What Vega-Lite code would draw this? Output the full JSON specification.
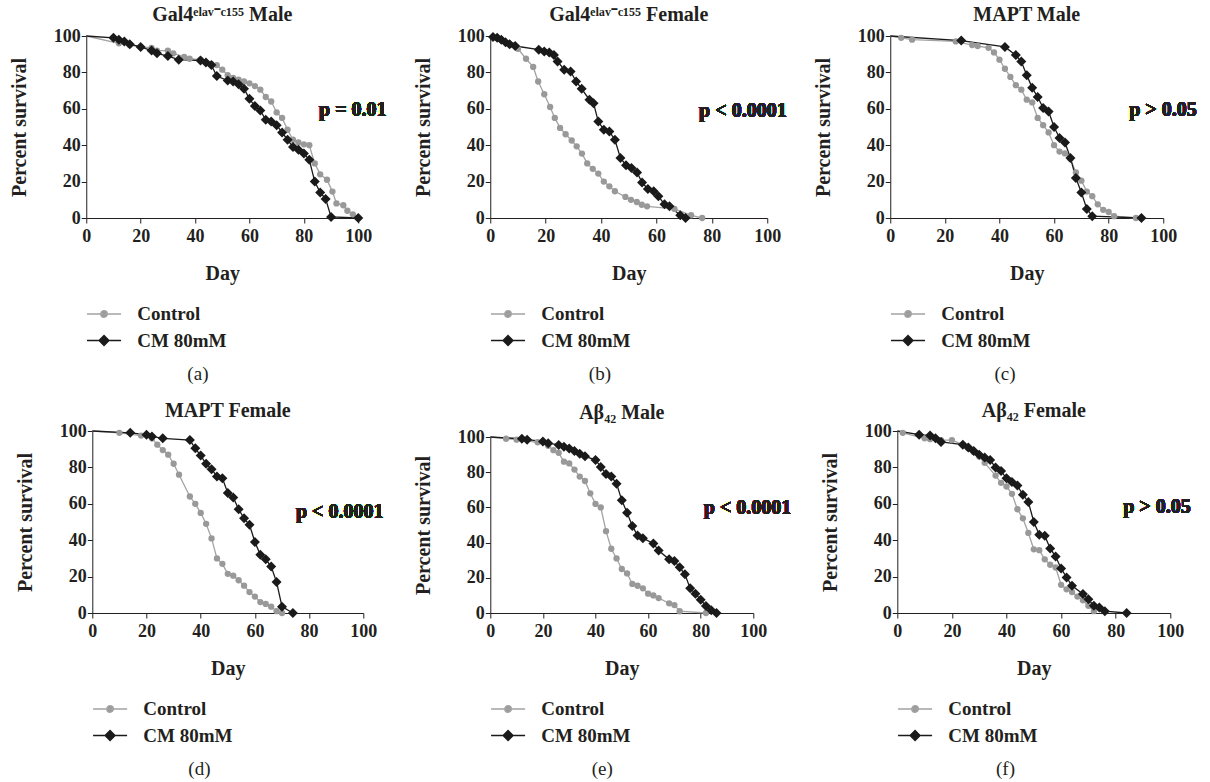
{
  "$schema": "https://vega.github.io/schema/vega-lite/v6.json",
  "background": "white",
  "padding": {"left": 9, "top": 5, "right": 5, "bottom": 0},
  "config": {
    "font": "Liberation Serif",
    "view": {"stroke": null},
    "axis": {"grid": false, "domainColor": "#231f20", "tickColor": "#231f20", "tickSize": 5, "labelFlush": false, "labelFont": "Liberation Serif", "labelFontSize": 18, "labelFontWeight": "bold", "labelColor": "#231f20", "labelPadding": 1, "titleFont": "Liberation Serif", "titleFontSize": 20, "titleFontWeight": "bold", "titleColor": "#231f20"},
    "axisX": {"titlePadding": 18, "labelPadding": 4},
    "axisY": {"titlePadding": 24},
    "legend": {"orient": "bottom", "direction": "vertical", "offset": 18, "symbolSize": 600, "rowPadding": 3.5, "labelOffset": 25, "labelFont": "Liberation Serif", "labelFontSize": 19, "labelFontWeight": "bold", "labelColor": "#231f20"},
    "title": {"font": "Liberation Serif", "fontSize": 20, "fontWeight": "bold", "color": "#231f20"}
  },
  "datasets": {
    "a": [
      {"group": "Control", "day": 0, "pct": 100}, {"group": "Control", "day": 12, "pct": 96}, {"group": "Control", "day": 16, "pct": 95}, {"group": "Control", "day": 20, "pct": 94}, {"group": "Control", "day": 24, "pct": 93.5}, {"group": "Control", "day": 26, "pct": 92}, {"group": "Control", "day": 30, "pct": 92}, {"group": "Control", "day": 32, "pct": 90.5}, {"group": "Control", "day": 36, "pct": 88.5}, {"group": "Control", "day": 38, "pct": 87.5}, {"group": "Control", "day": 42, "pct": 87}, {"group": "Control", "day": 44, "pct": 85.5}, {"group": "Control", "day": 46, "pct": 84.5}, {"group": "Control", "day": 48, "pct": 84}, {"group": "Control", "day": 50, "pct": 81.5}, {"group": "Control", "day": 52, "pct": 78.5}, {"group": "Control", "day": 54, "pct": 77}, {"group": "Control", "day": 56, "pct": 76}, {"group": "Control", "day": 58, "pct": 75}, {"group": "Control", "day": 60, "pct": 74}, {"group": "Control", "day": 62, "pct": 72.5}, {"group": "Control", "day": 64, "pct": 70.5}, {"group": "Control", "day": 66, "pct": 66.5}, {"group": "Control", "day": 68, "pct": 64}, {"group": "Control", "day": 70, "pct": 58}, {"group": "Control", "day": 72, "pct": 55}, {"group": "Control", "day": 74, "pct": 48.5}, {"group": "Control", "day": 76, "pct": 43}, {"group": "Control", "day": 78, "pct": 41.5}, {"group": "Control", "day": 80, "pct": 40.5}, {"group": "Control", "day": 82, "pct": 40}, {"group": "Control", "day": 84, "pct": 30}, {"group": "Control", "day": 86, "pct": 24}, {"group": "Control", "day": 88.5, "pct": 21}, {"group": "Control", "day": 90.5, "pct": 14.5}, {"group": "Control", "day": 92, "pct": 8}, {"group": "Control", "day": 94.5, "pct": 7}, {"group": "Control", "day": 96, "pct": 4}, {"group": "Control", "day": 98, "pct": 2}, {"group": "Control", "day": 100, "pct": 0},
      {"group": "CM 80mM", "day": 0, "pct": 100}, {"group": "CM 80mM", "day": 10, "pct": 99}, {"group": "CM 80mM", "day": 12, "pct": 98}, {"group": "CM 80mM", "day": 14, "pct": 97}, {"group": "CM 80mM", "day": 16, "pct": 95.5}, {"group": "CM 80mM", "day": 20, "pct": 94}, {"group": "CM 80mM", "day": 24, "pct": 92}, {"group": "CM 80mM", "day": 26, "pct": 90.5}, {"group": "CM 80mM", "day": 30, "pct": 89}, {"group": "CM 80mM", "day": 34, "pct": 87}, {"group": "CM 80mM", "day": 42, "pct": 86.5}, {"group": "CM 80mM", "day": 44, "pct": 85.5}, {"group": "CM 80mM", "day": 46, "pct": 84}, {"group": "CM 80mM", "day": 48, "pct": 78}, {"group": "CM 80mM", "day": 52, "pct": 75.5}, {"group": "CM 80mM", "day": 54, "pct": 75}, {"group": "CM 80mM", "day": 56, "pct": 73.5}, {"group": "CM 80mM", "day": 58, "pct": 71}, {"group": "CM 80mM", "day": 60, "pct": 65.5}, {"group": "CM 80mM", "day": 62, "pct": 61.5}, {"group": "CM 80mM", "day": 64, "pct": 59}, {"group": "CM 80mM", "day": 66, "pct": 54}, {"group": "CM 80mM", "day": 68, "pct": 53}, {"group": "CM 80mM", "day": 70, "pct": 51}, {"group": "CM 80mM", "day": 72, "pct": 47}, {"group": "CM 80mM", "day": 74, "pct": 43}, {"group": "CM 80mM", "day": 76, "pct": 39}, {"group": "CM 80mM", "day": 78, "pct": 37.5}, {"group": "CM 80mM", "day": 80, "pct": 35.5}, {"group": "CM 80mM", "day": 82, "pct": 32}, {"group": "CM 80mM", "day": 84, "pct": 20}, {"group": "CM 80mM", "day": 86, "pct": 14}, {"group": "CM 80mM", "day": 88, "pct": 10.5}, {"group": "CM 80mM", "day": 90, "pct": 0.6}, {"group": "CM 80mM", "day": 100, "pct": 0}
    ],
    "b": [
      {"group": "Control", "day": 0, "pct": 100}, {"group": "Control", "day": 2, "pct": 99}, {"group": "Control", "day": 4, "pct": 98}, {"group": "Control", "day": 6, "pct": 96}, {"group": "Control", "day": 8, "pct": 95}, {"group": "Control", "day": 10, "pct": 93}, {"group": "Control", "day": 12.9, "pct": 87.5}, {"group": "Control", "day": 15.5, "pct": 83}, {"group": "Control", "day": 17.3, "pct": 75}, {"group": "Control", "day": 19.5, "pct": 68}, {"group": "Control", "day": 21.6, "pct": 61}, {"group": "Control", "day": 23.3, "pct": 55}, {"group": "Control", "day": 25.2, "pct": 49.5}, {"group": "Control", "day": 27.2, "pct": 46}, {"group": "Control", "day": 29.4, "pct": 42.6}, {"group": "Control", "day": 31.2, "pct": 39.4}, {"group": "Control", "day": 33.1, "pct": 35.4}, {"group": "Control", "day": 35, "pct": 30}, {"group": "Control", "day": 37, "pct": 27}, {"group": "Control", "day": 39, "pct": 24.4}, {"group": "Control", "day": 41, "pct": 20}, {"group": "Control", "day": 43, "pct": 17.4}, {"group": "Control", "day": 45, "pct": 14.7}, {"group": "Control", "day": 48.8, "pct": 11.6}, {"group": "Control", "day": 50.8, "pct": 10}, {"group": "Control", "day": 52.9, "pct": 8.8}, {"group": "Control", "day": 54.7, "pct": 7.3}, {"group": "Control", "day": 56.6, "pct": 6.4}, {"group": "Control", "day": 66.5, "pct": 5}, {"group": "Control", "day": 72.5, "pct": 1.5}, {"group": "Control", "day": 76.5, "pct": 0},
      {"group": "CM 80mM", "day": 0, "pct": 100}, {"group": "CM 80mM", "day": 1, "pct": 99.5}, {"group": "CM 80mM", "day": 2.5, "pct": 99}, {"group": "CM 80mM", "day": 4, "pct": 98}, {"group": "CM 80mM", "day": 5.5, "pct": 96.5}, {"group": "CM 80mM", "day": 7, "pct": 95.5}, {"group": "CM 80mM", "day": 9, "pct": 94.5}, {"group": "CM 80mM", "day": 17.5, "pct": 92.5}, {"group": "CM 80mM", "day": 19.5, "pct": 91.5}, {"group": "CM 80mM", "day": 21.3, "pct": 91}, {"group": "CM 80mM", "day": 23, "pct": 89.5}, {"group": "CM 80mM", "day": 24.3, "pct": 86}, {"group": "CM 80mM", "day": 26.7, "pct": 81.5}, {"group": "CM 80mM", "day": 29, "pct": 80.5}, {"group": "CM 80mM", "day": 31, "pct": 75}, {"group": "CM 80mM", "day": 33, "pct": 71}, {"group": "CM 80mM", "day": 35.8, "pct": 65}, {"group": "CM 80mM", "day": 37.3, "pct": 63}, {"group": "CM 80mM", "day": 39, "pct": 53}, {"group": "CM 80mM", "day": 41, "pct": 48.5}, {"group": "CM 80mM", "day": 43, "pct": 47.5}, {"group": "CM 80mM", "day": 45, "pct": 43}, {"group": "CM 80mM", "day": 47, "pct": 33}, {"group": "CM 80mM", "day": 49, "pct": 29}, {"group": "CM 80mM", "day": 51, "pct": 27.5}, {"group": "CM 80mM", "day": 53, "pct": 25}, {"group": "CM 80mM", "day": 54.8, "pct": 19.5}, {"group": "CM 80mM", "day": 56.9, "pct": 16}, {"group": "CM 80mM", "day": 59, "pct": 14.7}, {"group": "CM 80mM", "day": 60.7, "pct": 12}, {"group": "CM 80mM", "day": 62.9, "pct": 7.5}, {"group": "CM 80mM", "day": 64.7, "pct": 6.5}, {"group": "CM 80mM", "day": 68.6, "pct": 1.5}, {"group": "CM 80mM", "day": 70.5, "pct": 0}
    ],
    "c": [
      {"group": "Control", "day": 0, "pct": 100}, {"group": "Control", "day": 4, "pct": 99}, {"group": "Control", "day": 8, "pct": 98}, {"group": "Control", "day": 24, "pct": 97}, {"group": "Control", "day": 30, "pct": 95}, {"group": "Control", "day": 32, "pct": 94.5}, {"group": "Control", "day": 36, "pct": 93.5}, {"group": "Control", "day": 38, "pct": 91}, {"group": "Control", "day": 40, "pct": 87}, {"group": "Control", "day": 42, "pct": 82}, {"group": "Control", "day": 44, "pct": 77.5}, {"group": "Control", "day": 46, "pct": 73}, {"group": "Control", "day": 48, "pct": 70.5}, {"group": "Control", "day": 50, "pct": 65}, {"group": "Control", "day": 52, "pct": 63.5}, {"group": "Control", "day": 54, "pct": 55}, {"group": "Control", "day": 56, "pct": 51}, {"group": "Control", "day": 58, "pct": 47}, {"group": "Control", "day": 60, "pct": 40}, {"group": "Control", "day": 62, "pct": 36.5}, {"group": "Control", "day": 64, "pct": 35.5}, {"group": "Control", "day": 66, "pct": 32.5}, {"group": "Control", "day": 68, "pct": 25}, {"group": "Control", "day": 70, "pct": 20.5}, {"group": "Control", "day": 72, "pct": 14.5}, {"group": "Control", "day": 74, "pct": 12}, {"group": "Control", "day": 76, "pct": 7.5}, {"group": "Control", "day": 78, "pct": 4.5}, {"group": "Control", "day": 80, "pct": 3.3}, {"group": "Control", "day": 82, "pct": 1}, {"group": "Control", "day": 90, "pct": 0},
      {"group": "CM 80mM", "day": 0, "pct": 100}, {"group": "CM 80mM", "day": 26, "pct": 97.5}, {"group": "CM 80mM", "day": 42, "pct": 94}, {"group": "CM 80mM", "day": 46, "pct": 89.5}, {"group": "CM 80mM", "day": 48, "pct": 86}, {"group": "CM 80mM", "day": 50, "pct": 78.5}, {"group": "CM 80mM", "day": 52, "pct": 71.5}, {"group": "CM 80mM", "day": 54, "pct": 66.5}, {"group": "CM 80mM", "day": 56, "pct": 60.5}, {"group": "CM 80mM", "day": 58, "pct": 58.5}, {"group": "CM 80mM", "day": 60, "pct": 50}, {"group": "CM 80mM", "day": 62, "pct": 44}, {"group": "CM 80mM", "day": 64, "pct": 41.5}, {"group": "CM 80mM", "day": 66, "pct": 33}, {"group": "CM 80mM", "day": 68, "pct": 22}, {"group": "CM 80mM", "day": 70, "pct": 14}, {"group": "CM 80mM", "day": 72, "pct": 5}, {"group": "CM 80mM", "day": 74, "pct": 1}, {"group": "CM 80mM", "day": 92, "pct": 0}
    ],
    "d": [
      {"group": "Control", "day": 0, "pct": 100}, {"group": "Control", "day": 10, "pct": 99}, {"group": "Control", "day": 18, "pct": 97.5}, {"group": "Control", "day": 22, "pct": 96}, {"group": "Control", "day": 24, "pct": 92.5}, {"group": "Control", "day": 26, "pct": 89.5}, {"group": "Control", "day": 28, "pct": 87}, {"group": "Control", "day": 30, "pct": 82}, {"group": "Control", "day": 32, "pct": 76}, {"group": "Control", "day": 36, "pct": 64}, {"group": "Control", "day": 38, "pct": 60}, {"group": "Control", "day": 40, "pct": 55}, {"group": "Control", "day": 42, "pct": 49}, {"group": "Control", "day": 44, "pct": 41}, {"group": "Control", "day": 46, "pct": 30}, {"group": "Control", "day": 48, "pct": 27}, {"group": "Control", "day": 50, "pct": 21.5}, {"group": "Control", "day": 52, "pct": 20.5}, {"group": "Control", "day": 54, "pct": 18}, {"group": "Control", "day": 56, "pct": 15}, {"group": "Control", "day": 58, "pct": 11.5}, {"group": "Control", "day": 60, "pct": 9}, {"group": "Control", "day": 62, "pct": 6}, {"group": "Control", "day": 64, "pct": 5}, {"group": "Control", "day": 66, "pct": 3.5}, {"group": "Control", "day": 68, "pct": 1}, {"group": "Control", "day": 70, "pct": 0},
      {"group": "CM 80mM", "day": 0, "pct": 100}, {"group": "CM 80mM", "day": 14, "pct": 99}, {"group": "CM 80mM", "day": 20, "pct": 98}, {"group": "CM 80mM", "day": 22, "pct": 97}, {"group": "CM 80mM", "day": 26, "pct": 96}, {"group": "CM 80mM", "day": 36, "pct": 95}, {"group": "CM 80mM", "day": 38, "pct": 90.5}, {"group": "CM 80mM", "day": 40, "pct": 86.5}, {"group": "CM 80mM", "day": 42, "pct": 82}, {"group": "CM 80mM", "day": 44, "pct": 79}, {"group": "CM 80mM", "day": 46, "pct": 75}, {"group": "CM 80mM", "day": 48, "pct": 74}, {"group": "CM 80mM", "day": 50, "pct": 66}, {"group": "CM 80mM", "day": 52, "pct": 63.5}, {"group": "CM 80mM", "day": 54, "pct": 57}, {"group": "CM 80mM", "day": 56, "pct": 52}, {"group": "CM 80mM", "day": 58, "pct": 48.5}, {"group": "CM 80mM", "day": 60, "pct": 39}, {"group": "CM 80mM", "day": 62, "pct": 32}, {"group": "CM 80mM", "day": 64, "pct": 29.5}, {"group": "CM 80mM", "day": 66, "pct": 25.5}, {"group": "CM 80mM", "day": 68, "pct": 17}, {"group": "CM 80mM", "day": 70, "pct": 3.5}, {"group": "CM 80mM", "day": 74, "pct": 0}
    ],
    "e": [
      {"group": "Control", "day": 0, "pct": 100}, {"group": "Control", "day": 6, "pct": 99}, {"group": "Control", "day": 10, "pct": 98.5}, {"group": "Control", "day": 18, "pct": 97}, {"group": "Control", "day": 22, "pct": 95}, {"group": "Control", "day": 24, "pct": 92.5}, {"group": "Control", "day": 26, "pct": 91}, {"group": "Control", "day": 28, "pct": 86}, {"group": "Control", "day": 30, "pct": 85}, {"group": "Control", "day": 32, "pct": 81.5}, {"group": "Control", "day": 34, "pct": 77.5}, {"group": "Control", "day": 36, "pct": 75}, {"group": "Control", "day": 38, "pct": 68}, {"group": "Control", "day": 40, "pct": 62}, {"group": "Control", "day": 42, "pct": 60}, {"group": "Control", "day": 44, "pct": 46.5}, {"group": "Control", "day": 46, "pct": 36.5}, {"group": "Control", "day": 48, "pct": 31}, {"group": "Control", "day": 50, "pct": 25}, {"group": "Control", "day": 52, "pct": 22.5}, {"group": "Control", "day": 54, "pct": 16.5}, {"group": "Control", "day": 56, "pct": 15.5}, {"group": "Control", "day": 58, "pct": 14}, {"group": "Control", "day": 60, "pct": 11}, {"group": "Control", "day": 62, "pct": 10}, {"group": "Control", "day": 64, "pct": 8.5}, {"group": "Control", "day": 68, "pct": 5.5}, {"group": "Control", "day": 70, "pct": 4.5}, {"group": "Control", "day": 72, "pct": 1}, {"group": "Control", "day": 82, "pct": 0},
      {"group": "CM 80mM", "day": 0, "pct": 100}, {"group": "CM 80mM", "day": 12, "pct": 99}, {"group": "CM 80mM", "day": 14, "pct": 98.5}, {"group": "CM 80mM", "day": 20, "pct": 97.5}, {"group": "CM 80mM", "day": 22, "pct": 96.5}, {"group": "CM 80mM", "day": 26, "pct": 95.5}, {"group": "CM 80mM", "day": 28, "pct": 94.5}, {"group": "CM 80mM", "day": 30, "pct": 93.5}, {"group": "CM 80mM", "day": 32, "pct": 92}, {"group": "CM 80mM", "day": 34, "pct": 90.5}, {"group": "CM 80mM", "day": 36, "pct": 89}, {"group": "CM 80mM", "day": 40, "pct": 87}, {"group": "CM 80mM", "day": 42, "pct": 83}, {"group": "CM 80mM", "day": 44, "pct": 79}, {"group": "CM 80mM", "day": 46, "pct": 77.5}, {"group": "CM 80mM", "day": 48, "pct": 73.5}, {"group": "CM 80mM", "day": 50, "pct": 64}, {"group": "CM 80mM", "day": 52, "pct": 57}, {"group": "CM 80mM", "day": 54, "pct": 49.5}, {"group": "CM 80mM", "day": 56, "pct": 44}, {"group": "CM 80mM", "day": 58, "pct": 42.5}, {"group": "CM 80mM", "day": 62, "pct": 39.5}, {"group": "CM 80mM", "day": 64, "pct": 35.5}, {"group": "CM 80mM", "day": 68, "pct": 30.5}, {"group": "CM 80mM", "day": 70, "pct": 29.5}, {"group": "CM 80mM", "day": 72, "pct": 26}, {"group": "CM 80mM", "day": 74, "pct": 22}, {"group": "CM 80mM", "day": 76, "pct": 14}, {"group": "CM 80mM", "day": 78, "pct": 11}, {"group": "CM 80mM", "day": 80, "pct": 7.5}, {"group": "CM 80mM", "day": 82, "pct": 4}, {"group": "CM 80mM", "day": 84, "pct": 1.5}, {"group": "CM 80mM", "day": 86, "pct": 0}
    ],
    "f": [
      {"group": "Control", "day": 0, "pct": 100}, {"group": "Control", "day": 2, "pct": 99}, {"group": "Control", "day": 10, "pct": 96}, {"group": "Control", "day": 12, "pct": 95.5}, {"group": "Control", "day": 16, "pct": 95}, {"group": "Control", "day": 20, "pct": 95}, {"group": "Control", "day": 24, "pct": 92.5}, {"group": "Control", "day": 26, "pct": 90.5}, {"group": "Control", "day": 28, "pct": 88.5}, {"group": "Control", "day": 30, "pct": 86}, {"group": "Control", "day": 32, "pct": 82.5}, {"group": "Control", "day": 36, "pct": 75.5}, {"group": "Control", "day": 38, "pct": 71.5}, {"group": "Control", "day": 40, "pct": 69.5}, {"group": "Control", "day": 42, "pct": 65.5}, {"group": "Control", "day": 44, "pct": 57}, {"group": "Control", "day": 46, "pct": 52}, {"group": "Control", "day": 48, "pct": 44}, {"group": "Control", "day": 50, "pct": 35}, {"group": "Control", "day": 52, "pct": 34.5}, {"group": "Control", "day": 54, "pct": 29.5}, {"group": "Control", "day": 56, "pct": 26.5}, {"group": "Control", "day": 58, "pct": 25}, {"group": "Control", "day": 60, "pct": 15.5}, {"group": "Control", "day": 62, "pct": 13}, {"group": "Control", "day": 64, "pct": 11.5}, {"group": "Control", "day": 66, "pct": 9}, {"group": "Control", "day": 68, "pct": 7}, {"group": "Control", "day": 70, "pct": 4}, {"group": "Control", "day": 72, "pct": 1},
      {"group": "CM 80mM", "day": 0, "pct": 100}, {"group": "CM 80mM", "day": 8, "pct": 98}, {"group": "CM 80mM", "day": 12, "pct": 97.5}, {"group": "CM 80mM", "day": 14, "pct": 96}, {"group": "CM 80mM", "day": 16, "pct": 94}, {"group": "CM 80mM", "day": 24, "pct": 92.5}, {"group": "CM 80mM", "day": 26, "pct": 91}, {"group": "CM 80mM", "day": 28, "pct": 89}, {"group": "CM 80mM", "day": 30, "pct": 87}, {"group": "CM 80mM", "day": 32, "pct": 85.5}, {"group": "CM 80mM", "day": 34, "pct": 84}, {"group": "CM 80mM", "day": 36, "pct": 80}, {"group": "CM 80mM", "day": 38, "pct": 78}, {"group": "CM 80mM", "day": 40, "pct": 74}, {"group": "CM 80mM", "day": 42, "pct": 72}, {"group": "CM 80mM", "day": 44, "pct": 70}, {"group": "CM 80mM", "day": 46, "pct": 65}, {"group": "CM 80mM", "day": 48, "pct": 61}, {"group": "CM 80mM", "day": 50, "pct": 50}, {"group": "CM 80mM", "day": 52, "pct": 43}, {"group": "CM 80mM", "day": 54, "pct": 42.5}, {"group": "CM 80mM", "day": 56, "pct": 35.5}, {"group": "CM 80mM", "day": 58, "pct": 31}, {"group": "CM 80mM", "day": 60, "pct": 24.5}, {"group": "CM 80mM", "day": 62, "pct": 19.5}, {"group": "CM 80mM", "day": 64, "pct": 15}, {"group": "CM 80mM", "day": 68, "pct": 10.5}, {"group": "CM 80mM", "day": 70, "pct": 7.5}, {"group": "CM 80mM", "day": 72, "pct": 4}, {"group": "CM 80mM", "day": 74, "pct": 3}, {"group": "CM 80mM", "day": 76, "pct": 1}, {"group": "CM 80mM", "day": 84, "pct": 0}
    ]
  },
  "resolve": {"scale": {"color": "independent"}, "legend": {"color": "independent"}},
  "spacing": 17,
  "center": true,
  "vconcat": [
    {
      "resolve": {"scale": {"color": "independent"}, "legend": {"color": "independent"}},
      "spacing": 26,
      "hconcat": [
        {
          "title": {"text": "(a)", "orient": "bottom", "anchor": "middle", "fontWeight": "normal", "fontSize": 19, "offset": 14},
          "resolve": {"scale": {"color": "independent"}, "legend": {"color": "independent"}},
          "vconcat": [
            {
              "width": 272, "height": 182,
              "title": {"text": "Gal4ᵉˡᵃᵛ⁻ᶜ¹⁵⁵ Male", "frame": "group", "offset": 2},
              "data": {"name": "a"},
              "encoding": {
                "x": {"field": "day", "type": "quantitative", "title": "Day", "scale": {"domain": [0, 100]}, "axis": {"values": [0, 20, 40, 60, 80, 100]}},
                "y": {"field": "pct", "type": "quantitative", "title": "Percent survival", "scale": {"domain": [0, 100]}, "axis": {"values": [0, 20, 40, 60, 80, 100]}}
              },
              "layer": [
                {"mark": {"type": "line", "strokeWidth": 1.3}, "encoding": {"color": {"field": "group", "type": "nominal", "scale": {"domain": ["Control", "CM 80mM"], "range": ["#a3a3a3", "#1a1a1a"]}, "legend": {"title": null, "encode": {"symbols": {"update": {"shape": {"signal": "datum.value === 'Control' ? 'M-1,0L1.78,0M0.66,0A0.27,0.27,0,1,1,0.12,0A0.27,0.27,0,1,1,0.66,0Z' : 'M-1,0L1.78,0M0.39,-0.41L0.8,0L0.39,0.41L-0.02,0Z'"}, "stroke": {"signal": "datum.value === 'Control' ? '#a3a3a3' : '#1a1a1a'"}, "fill": {"signal": "datum.value === 'Control' ? '#999999' : '#1a1a1a'"}, "strokeWidth": {"value": 1.3}, "strokeOpacity": {"value": 1}, "fillOpacity": {"value": 1}, "opacity": {"value": 1}}}}}}}},
                {"transform": [{"filter": "datum.day > 0 && datum.group === 'Control'"}], "mark": {"type": "point", "shape": "circle", "filled": true, "size": 40, "color": "#999999", "opacity": 1}},
                {"transform": [{"filter": "datum.day > 0 && datum.group === 'CM 80mM'"}], "mark": {"type": "point", "shape": "diamond", "filled": true, "size": 100, "color": "#1a1a1a", "opacity": 1}},
                {"mark": {"type": "text", "fontSize": 20, "fontWeight": "bold", "color": "#231f20"}, "encoding": {"x": {"datum": 98}, "y": {"datum": 59.3}, "text": {"value": "p = 0.01"}}}
              ]
            }
          ]
        },
        {
          "title": {"text": "(b)", "orient": "bottom", "anchor": "middle", "fontWeight": "normal", "fontSize": 19, "offset": 14},
          "resolve": {"scale": {"color": "independent"}, "legend": {"color": "independent"}},
          "vconcat": [
            {
              "width": 277, "height": 182,
              "title": {"text": "Gal4ᵉˡᵃᵛ⁻ᶜ¹⁵⁵ Female", "frame": "group", "offset": 2},
              "data": {"name": "b"},
              "encoding": {
                "x": {"field": "day", "type": "quantitative", "title": "Day", "scale": {"domain": [0, 100]}, "axis": {"values": [0, 20, 40, 60, 80, 100]}},
                "y": {"field": "pct", "type": "quantitative", "title": "Percent survival", "scale": {"domain": [0, 100]}, "axis": {"values": [0, 20, 40, 60, 80, 100]}}
              },
              "layer": [
                {"mark": {"type": "line", "strokeWidth": 1.3}, "encoding": {"color": {"field": "group", "type": "nominal", "scale": {"domain": ["Control", "CM 80mM"], "range": ["#a3a3a3", "#1a1a1a"]}, "legend": {"title": null, "encode": {"symbols": {"update": {"shape": {"signal": "datum.value === 'Control' ? 'M-1,0L1.78,0M0.66,0A0.27,0.27,0,1,1,0.12,0A0.27,0.27,0,1,1,0.66,0Z' : 'M-1,0L1.78,0M0.39,-0.41L0.8,0L0.39,0.41L-0.02,0Z'"}, "stroke": {"signal": "datum.value === 'Control' ? '#a3a3a3' : '#1a1a1a'"}, "fill": {"signal": "datum.value === 'Control' ? '#999999' : '#1a1a1a'"}, "strokeWidth": {"value": 1.3}, "strokeOpacity": {"value": 1}, "fillOpacity": {"value": 1}, "opacity": {"value": 1}}}}}}}},
                {"transform": [{"filter": "datum.day > 0 && datum.group === 'Control'"}], "mark": {"type": "point", "shape": "circle", "filled": true, "size": 40, "color": "#999999", "opacity": 1}},
                {"transform": [{"filter": "datum.day > 0 && datum.group === 'CM 80mM'"}], "mark": {"type": "point", "shape": "diamond", "filled": true, "size": 100, "color": "#1a1a1a", "opacity": 1}},
                {"mark": {"type": "text", "fontSize": 20, "fontWeight": "bold", "color": "#231f20"}, "encoding": {"x": {"datum": 91.2}, "y": {"datum": 58.7}, "text": {"value": "p < 0.0001"}}}
              ]
            }
          ]
        },
        {
          "title": {"text": "(c)", "orient": "bottom", "anchor": "middle", "fontWeight": "normal", "fontSize": 19, "offset": 14},
          "resolve": {"scale": {"color": "independent"}, "legend": {"color": "independent"}},
          "vconcat": [
            {
              "width": 273, "height": 182,
              "title": {"text": "MAPT Male", "frame": "group", "offset": 2},
              "data": {"name": "c"},
              "encoding": {
                "x": {"field": "day", "type": "quantitative", "title": "Day", "scale": {"domain": [0, 100]}, "axis": {"values": [0, 20, 40, 60, 80, 100]}},
                "y": {"field": "pct", "type": "quantitative", "title": "Percent survival", "scale": {"domain": [0, 100]}, "axis": {"values": [0, 20, 40, 60, 80, 100]}}
              },
              "layer": [
                {"mark": {"type": "line", "strokeWidth": 1.3}, "encoding": {"color": {"field": "group", "type": "nominal", "scale": {"domain": ["Control", "CM 80mM"], "range": ["#a3a3a3", "#1a1a1a"]}, "legend": {"title": null, "encode": {"symbols": {"update": {"shape": {"signal": "datum.value === 'Control' ? 'M-1,0L1.78,0M0.66,0A0.27,0.27,0,1,1,0.12,0A0.27,0.27,0,1,1,0.66,0Z' : 'M-1,0L1.78,0M0.39,-0.41L0.8,0L0.39,0.41L-0.02,0Z'"}, "stroke": {"signal": "datum.value === 'Control' ? '#a3a3a3' : '#1a1a1a'"}, "fill": {"signal": "datum.value === 'Control' ? '#999999' : '#1a1a1a'"}, "strokeWidth": {"value": 1.3}, "strokeOpacity": {"value": 1}, "fillOpacity": {"value": 1}, "opacity": {"value": 1}}}}}}}},
                {"transform": [{"filter": "datum.day > 0 && datum.group === 'Control'"}], "mark": {"type": "point", "shape": "circle", "filled": true, "size": 40, "color": "#999999", "opacity": 1}},
                {"transform": [{"filter": "datum.day > 0 && datum.group === 'CM 80mM'"}], "mark": {"type": "point", "shape": "diamond", "filled": true, "size": 100, "color": "#1a1a1a", "opacity": 1}},
                {"mark": {"type": "text", "fontSize": 20, "fontWeight": "bold", "color": "#231f20"}, "encoding": {"x": {"datum": 99.9}, "y": {"datum": 59.4}, "text": {"value": "p > 0.05"}}}
              ]
            }
          ]
        }
      ]
    },
    {
      "resolve": {"scale": {"color": "independent"}, "legend": {"color": "independent"}},
      "spacing": 29,
      "hconcat": [
        {
          "title": {"text": "(d)", "orient": "bottom", "anchor": "middle", "fontWeight": "normal", "fontSize": 19, "offset": 14},
          "resolve": {"scale": {"color": "independent"}, "legend": {"color": "independent"}},
          "vconcat": [
            {
              "width": 271, "height": 182,
              "title": {"text": "MAPT Female", "frame": "group", "offset": 1},
              "data": {"name": "d"},
              "encoding": {
                "x": {"field": "day", "type": "quantitative", "title": "Day", "scale": {"domain": [0, 100]}, "axis": {"values": [0, 20, 40, 60, 80, 100]}},
                "y": {"field": "pct", "type": "quantitative", "title": "Percent survival", "scale": {"domain": [0, 100]}, "axis": {"values": [0, 20, 40, 60, 80, 100]}}
              },
              "layer": [
                {"mark": {"type": "line", "strokeWidth": 1.3}, "encoding": {"color": {"field": "group", "type": "nominal", "scale": {"domain": ["Control", "CM 80mM"], "range": ["#a3a3a3", "#1a1a1a"]}, "legend": {"title": null, "encode": {"symbols": {"update": {"shape": {"signal": "datum.value === 'Control' ? 'M-1,0L1.78,0M0.66,0A0.27,0.27,0,1,1,0.12,0A0.27,0.27,0,1,1,0.66,0Z' : 'M-1,0L1.78,0M0.39,-0.41L0.8,0L0.39,0.41L-0.02,0Z'"}, "stroke": {"signal": "datum.value === 'Control' ? '#a3a3a3' : '#1a1a1a'"}, "fill": {"signal": "datum.value === 'Control' ? '#999999' : '#1a1a1a'"}, "strokeWidth": {"value": 1.3}, "strokeOpacity": {"value": 1}, "fillOpacity": {"value": 1}, "opacity": {"value": 1}}}}}}}},
                {"transform": [{"filter": "datum.day > 0 && datum.group === 'Control'"}], "mark": {"type": "point", "shape": "circle", "filled": true, "size": 40, "color": "#999999", "opacity": 1}},
                {"transform": [{"filter": "datum.day > 0 && datum.group === 'CM 80mM'"}], "mark": {"type": "point", "shape": "diamond", "filled": true, "size": 100, "color": "#1a1a1a", "opacity": 1}},
                {"mark": {"type": "text", "fontSize": 20, "fontWeight": "bold", "color": "#231f20"}, "encoding": {"x": {"datum": 91.3}, "y": {"datum": 55.3}, "text": {"value": "p < 0.0001"}}}
              ]
            }
          ]
        },
        {
          "title": {"text": "(e)", "orient": "bottom", "anchor": "middle", "fontWeight": "normal", "fontSize": 19, "offset": 14},
          "resolve": {"scale": {"color": "independent"}, "legend": {"color": "independent"}},
          "vconcat": [
            {
              "width": 263, "height": 182,
              "title": {"text": "Aβ₄₂ Male", "frame": "group", "offset": 5},
              "data": {"name": "e"},
              "encoding": {
                "x": {"field": "day", "type": "quantitative", "title": "Day", "scale": {"domain": [0, 100]}, "axis": {"values": [0, 20, 40, 60, 80, 100]}},
                "y": {"field": "pct", "type": "quantitative", "title": "Percent survival", "scale": {"domain": [0, 100], "range": [182, 6]}, "axis": {"values": [0, 20, 40, 60, 80, 100]}}
              },
              "layer": [
                {"mark": {"type": "line", "strokeWidth": 1.3}, "encoding": {"color": {"field": "group", "type": "nominal", "scale": {"domain": ["Control", "CM 80mM"], "range": ["#a3a3a3", "#1a1a1a"]}, "legend": {"title": null, "encode": {"symbols": {"update": {"shape": {"signal": "datum.value === 'Control' ? 'M-1,0L1.78,0M0.66,0A0.27,0.27,0,1,1,0.12,0A0.27,0.27,0,1,1,0.66,0Z' : 'M-1,0L1.78,0M0.39,-0.41L0.8,0L0.39,0.41L-0.02,0Z'"}, "stroke": {"signal": "datum.value === 'Control' ? '#a3a3a3' : '#1a1a1a'"}, "fill": {"signal": "datum.value === 'Control' ? '#999999' : '#1a1a1a'"}, "strokeWidth": {"value": 1.3}, "strokeOpacity": {"value": 1}, "fillOpacity": {"value": 1}, "opacity": {"value": 1}}}}}}}},
                {"transform": [{"filter": "datum.day > 0 && datum.group === 'Control'"}], "mark": {"type": "point", "shape": "circle", "filled": true, "size": 40, "color": "#999999", "opacity": 1}},
                {"transform": [{"filter": "datum.day > 0 && datum.group === 'CM 80mM'"}], "mark": {"type": "point", "shape": "diamond", "filled": true, "size": 100, "color": "#1a1a1a", "opacity": 1}},
                {"mark": {"type": "text", "fontSize": 20, "fontWeight": "bold", "color": "#231f20"}, "encoding": {"x": {"datum": 97.8}, "y": {"datum": 59.8}, "text": {"value": "p < 0.0001"}}}
              ]
            }
          ]
        },
        {
          "title": {"text": "(f)", "orient": "bottom", "anchor": "middle", "fontWeight": "normal", "fontSize": 19, "offset": 14},
          "resolve": {"scale": {"color": "independent"}, "legend": {"color": "independent"}},
          "vconcat": [
            {
              "width": 273, "height": 182,
              "title": {"text": "Aβ₄₂ Female", "frame": "group", "offset": 1},
              "data": {"name": "f"},
              "encoding": {
                "x": {"field": "day", "type": "quantitative", "title": "Day", "scale": {"domain": [0, 100]}, "axis": {"values": [0, 20, 40, 60, 80, 100]}},
                "y": {"field": "pct", "type": "quantitative", "title": "Percent survival", "scale": {"domain": [0, 100]}, "axis": {"values": [0, 20, 40, 60, 80, 100]}}
              },
              "layer": [
                {"mark": {"type": "line", "strokeWidth": 1.3}, "encoding": {"color": {"field": "group", "type": "nominal", "scale": {"domain": ["Control", "CM 80mM"], "range": ["#a3a3a3", "#1a1a1a"]}, "legend": {"title": null, "encode": {"symbols": {"update": {"shape": {"signal": "datum.value === 'Control' ? 'M-1,0L1.78,0M0.66,0A0.27,0.27,0,1,1,0.12,0A0.27,0.27,0,1,1,0.66,0Z' : 'M-1,0L1.78,0M0.39,-0.41L0.8,0L0.39,0.41L-0.02,0Z'"}, "stroke": {"signal": "datum.value === 'Control' ? '#a3a3a3' : '#1a1a1a'"}, "fill": {"signal": "datum.value === 'Control' ? '#999999' : '#1a1a1a'"}, "strokeWidth": {"value": 1.3}, "strokeOpacity": {"value": 1}, "fillOpacity": {"value": 1}, "opacity": {"value": 1}}}}}}}},
                {"transform": [{"filter": "datum.day > 0 && datum.group === 'Control'"}], "mark": {"type": "point", "shape": "circle", "filled": true, "size": 40, "color": "#999999", "opacity": 1}},
                {"transform": [{"filter": "datum.day > 0 && datum.group === 'CM 80mM'"}], "mark": {"type": "point", "shape": "diamond", "filled": true, "size": 100, "color": "#1a1a1a", "opacity": 1}},
                {"mark": {"type": "text", "fontSize": 20, "fontWeight": "bold", "color": "#231f20"}, "encoding": {"x": {"datum": 95.1}, "y": {"datum": 58}, "text": {"value": "p > 0.05"}}}
              ]
            }
          ]
        }
      ]
    }
  ]
}
